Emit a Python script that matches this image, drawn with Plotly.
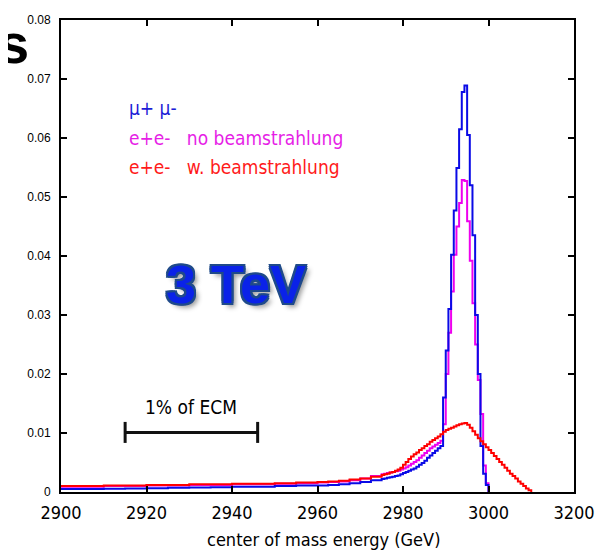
import plotly.graph_objects as go

# ---------------- data ----------------
# coarse tail bins (left edges, GeV)
tail_edges = [2900, 2905, 2910, 2915, 2920, 2925, 2930, 2935, 2940, 2945, 2950, 2955,
              2960, 2962.5, 2965, 2967.5, 2970, 2972.5]
tail_end = 2975.0
fine_width = 0.625  # GeV per bin in the peak region

mumu_tail = [0.0005, 0.0005, 0.00055, 0.0006, 0.00065, 0.0007, 0.00075, 0.0008, 0.0009, 0.0009,
             0.0010, 0.0011, 0.0011, 0.0012, 0.0013, 0.0015, 0.0017, 0.0020]
ee_nobs_tail = [0.0009, 0.0009, 0.0010, 0.0010, 0.0011, 0.0011, 0.0012, 0.0012, 0.0013, 0.0013,
                0.0014, 0.0015, 0.0016, 0.0017, 0.0018, 0.0020, 0.0023, 0.0027]
ee_bs_tail = [0.0010, 0.0010, 0.0011, 0.0011, 0.0012, 0.0012, 0.0013, 0.0013, 0.0014, 0.0014,
              0.0015, 0.0016, 0.0017, 0.0018, 0.0019, 0.0021, 0.0023, 0.0026]

# fine bins from 2975 GeV, 0.625 GeV wide
mumu_fine = [0.0022, 0.0023, 0.0024, 0.0025, 0.0026, 0.0027, 0.0028, 0.0030, 0.0032, 0.0034,
             0.0036, 0.0038, 0.0040, 0.0043, 0.0046, 0.0049, 0.0053, 0.0058, 0.0062, 0.0066,
             0.0070, 0.0074, 0.0078, 0.0160, 0.0240, 0.0310, 0.0402, 0.0477, 0.0549, 0.0615,
             0.0678, 0.0689, 0.0605, 0.0520, 0.0435, 0.0300, 0.0200, 0.0078, 0.0031, 0.0012]
ee_nobs_fine = [0.0030, 0.0031, 0.0032, 0.0033, 0.0034, 0.0035, 0.0036, 0.0038, 0.0040, 0.0042,
                0.0045, 0.0048, 0.0051, 0.0054, 0.0058, 0.0062, 0.0066, 0.0070, 0.0074, 0.0077,
                0.0080, 0.0083, 0.0087, 0.0115, 0.0200, 0.0270, 0.0340, 0.0402, 0.0450, 0.0490,
                0.0529, 0.0527, 0.0459, 0.0392, 0.0320, 0.0250, 0.0190, 0.0132, 0.0045, 0.0015]
ee_bs_fine = [0.0029, 0.0030, 0.0031, 0.0033, 0.0034, 0.0036, 0.0038, 0.0041, 0.0046, 0.0051,
              0.0056, 0.0060, 0.0064, 0.0067, 0.0071, 0.0074, 0.0078, 0.0081, 0.0085, 0.0088,
              0.0091, 0.0094, 0.0098, 0.0102, 0.0105, 0.0107, 0.0109, 0.0111, 0.0113, 0.0115,
              0.0116, 0.0117, 0.0114, 0.0109, 0.0103, 0.0097, 0.0091, 0.0086, 0.0081, 0.0076,
              0.0071, 0.0066, 0.0061, 0.0056, 0.0051, 0.0046, 0.0041, 0.0036, 0.0031, 0.0027,
              0.0023, 0.0018, 0.0014, 0.0010, 0.0006, 0.0003]

series_names = ["e+e-  no beamstrahlung", "μ+ μ-", "e+e-  w. beamstrahlung"]
series_colors = ["#ee00ee", "#0a0ae6", "#ff0000"]

x_tickvals = [2900, 2920, 2940, 2960, 2980, 3000, 3020]
x_ticktext = ["2900", "2920", "2940", "2960", "2980", "3000", "3200"]
y_tickvals = [0, 0.01, 0.02, 0.03, 0.04, 0.05, 0.06, 0.07, 0.08]
y_ticktext = ["0", "0.01", "0.02", "0.03", "0.04", "0.05", "0.06", "0.07", "0.08"]

scale_bar_x = [2915, 2946]
scale_bar_y = [0.0101, 0.0101]


def step_xy(tail, fine):
    xs = list(tail_edges) + [tail_end + fine_width * j for j in range(len(fine))]
    ys = list(tail) + list(fine)
    xs.append(tail_end + fine_width * len(fine))
    ys.append(0.0)
    return xs, ys


fig = go.Figure()
for (tail, fine), name, col in zip(
        [(ee_nobs_tail, ee_nobs_fine), (mumu_tail, mumu_fine), (ee_bs_tail, ee_bs_fine)],
        series_names, series_colors):
    xs, ys = step_xy(tail, fine)
    fig.add_trace(go.Scatter(x=xs, y=ys, mode="lines", line=dict(color=col, width=2, shape="hv"),
                             name=name, showlegend=False, hoverinfo="skip"))

fig.add_trace(go.Scatter(x=scale_bar_x, y=scale_bar_y, mode="lines+markers",
                         line=dict(color="#111111", width=3),
                         marker=dict(symbol="line-ns", size=15, line=dict(color="#111111", width=3)),
                         showlegend=False, hoverinfo="skip"))

narrow = "Liberation Sans Narrow, DejaVu Sans Condensed, Arial Narrow, sans-serif"

fig.update_xaxes(range=[2900, 3020], tickvals=x_tickvals, ticktext=x_ticktext,
                 ticks="inside", ticklen=6, tickwidth=2, tickcolor="black",
                 showline=True, linewidth=2, linecolor="black", mirror="ticks",
                 showgrid=False, zeroline=False, ticklabelstandoff=3,
                 tickfont=dict(family=narrow, size=18, color="black"))
fig.update_yaxes(range=[0, 0.08], tickvals=y_tickvals, ticktext=y_ticktext,
                 ticks="inside", ticklen=6, tickwidth=2, tickcolor="black",
                 showline=True, linewidth=2, linecolor="black", mirror="ticks",
                 showgrid=False, zeroline=False, ticklabelstandoff=6,
                 tickfont=dict(family="Liberation Sans, Arial, sans-serif", size=12, color="black"))

annotations = [
    dict(text="center of mass energy (GeV)", x=0.511, y=-0.1015, xref="paper", yref="paper",
         xanchor="center", yanchor="middle", showarrow=False,
         font=dict(family=narrow, size=18, color="black")),
    dict(text="μ+ μ-", x=0.129, y=0.8145, xref="paper", yref="paper", xanchor="left",
         yanchor="middle", showarrow=False, font=dict(family=narrow, size=19, color="#1c1cd6")),
    dict(text="e+e-\u00a0\u00a0\u00a0no beamstrahlung", x=0.129, y=0.749, xref="paper", yref="paper",
         xanchor="left", yanchor="middle", showarrow=False,
         font=dict(family=narrow, size=19, color="#e61ee6")),
    dict(text="e+e-\u00a0\u00a0\u00a0w. beamstrahlung", x=0.129, y=0.688, xref="paper", yref="paper",
         xanchor="left", yanchor="middle", showarrow=False,
         font=dict(family=narrow, size=19, color="#ff1a1a")),
    dict(text="1% of ECM", x=0.254, y=0.180, xref="paper", yref="paper", xanchor="center",
         yanchor="middle", showarrow=False, font=dict(family=narrow, size=19, color="black")),
    dict(text="<b>3 TeV</b>", x=0.3415, y=0.4405, xref="paper", yref="paper", xanchor="center",
         yanchor="middle", showarrow=False,
         font=dict(family="Liberation Sans, Arial, sans-serif", size=54, color="#0a22e8",
                   shadow="-2px -2px 0 #1f4a8a, 2px -2px 0 #1f4a8a, -2px 2px 0 #1f4a8a, "
                          "2px 2px 0 #1f4a8a, 0 -2px 0 #1f4a8a, 0 2px 0 #1f4a8a, "
                          "-2px 0 0 #1f4a8a, 2px 0 0 #1f4a8a, 4px 4px 5px #999999")),
    dict(text="<b>s</b>", x=-0.058, y=0.95, xref="paper", yref="paper", xanchor="right",
         yanchor="middle", showarrow=False,
         font=dict(family="Liberation Sans, Arial, sans-serif", size=56, color="black")),
]

# the page body adds a small offset; margins compensate so the frame lands at the reference spot
fig.update_layout(width=605, height=553, margin=dict(l=53, r=39, t=5, b=69),
                  paper_bgcolor="white", plot_bgcolor="white", annotations=annotations)

fig.write_html("out.html")
